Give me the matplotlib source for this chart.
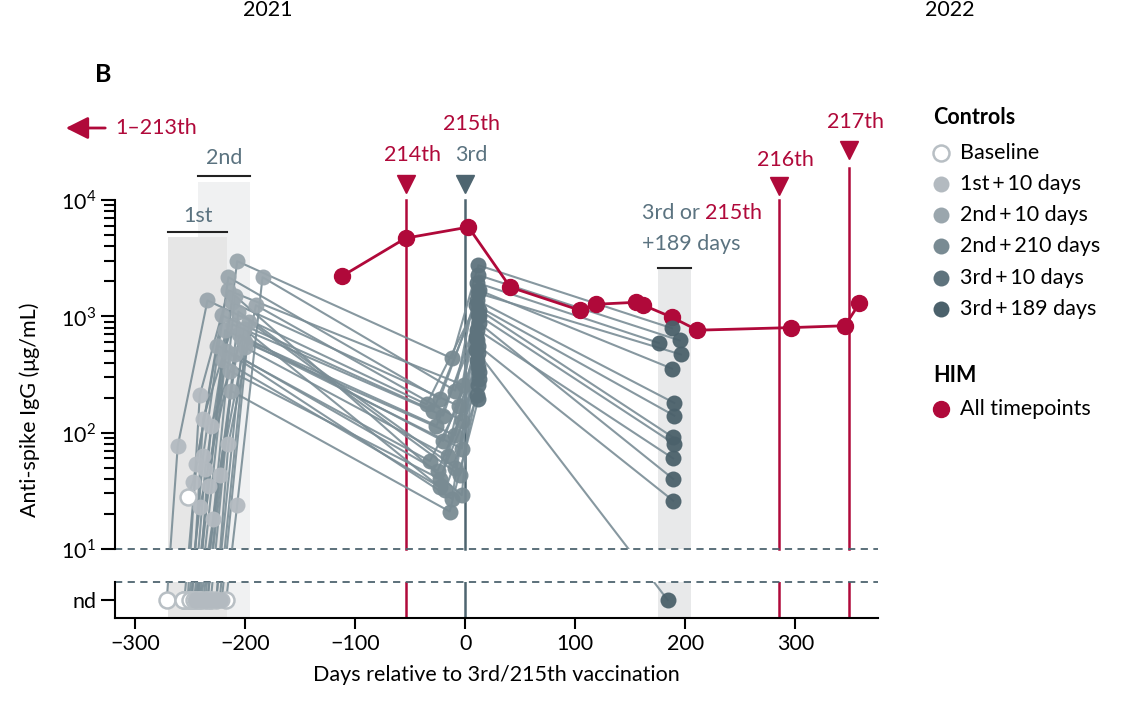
import numpy as np
import matplotlib
matplotlib.use("Agg")
import matplotlib.pyplot as plt
from matplotlib import transforms
from matplotlib.lines import Line2D
from matplotlib.patches import Rectangle
from matplotlib.ticker import LogLocator, NullLocator, FixedLocator

plt.rcParams['font.family'] = ['Lato', 'DejaVu Sans']
plt.rcParams['mathtext.fontset'] = 'custom'
plt.rcParams['mathtext.rm'] = 'Lato'

# ---- data ---------------------------------------------------------------
# HIM, all timepoints (days relative to 215th vaccination, anti-spike IgG)
him_day = [-112, -54, 3, 41, 104, 119, 155, 162, 188, 211, 296, 345, 358]
him_val = [2210, 4700, 5850, 1780, 1130, 1270, 1320, 1245, 980, 760, 800, 830, 1290]

# Controls: one entry per person, 0 = not detected (nd), nan = no sample
base_day = [-243, -217, -249, -252, -271, -246, -226, -255, -240, -234, -232, -251,
            -248, -255, -242, -252, -244, -256, -241, -231, -248, -250, -246, -236]
base_val = [0, 0, 0, 0, 0, 0, 0, 0, 0, 0, 0, 0, 0, 0, 0, 28, 0, 0, 0, 0, 0, 0, 0, 0]

d1_day = [-233, -207, -238, -241, -261, -236, -215, -244, -229, -223, -223, -241,
          -238, -244, -231, -247, -234, -245, -231, -221, -238, -241, -236, -226]
d1_val = [35, 24, 63, 210, 77, 49, 80, 54, 18, 43, 0, 23,
          132, 0, 115, 38, 0, 0, 0, 0, 0, 0, 0, 0]

d2_day = [-207, -184, -215, -215, -234, -212, -190, -221, -205, -200, -200, -214,
          -211, -218, -203, -225, -209, -220, -206, -196, -213, -217, -209, -201]
d2_val = [2980, 2170, 2170, 1670, 1370, 1320, 1245, 1020, 700, 600, 540, 340,
          850, 760, 640, 560, 470, 420, 1100, 900, 230, 500, 1500, 780]

d210_day = [-12, -9, -23, -1, -35, -6, -3, -29, -20, -9, -16, -23,
            -20, -26, -3, -32, -25, -18, -9, -5, -14, -12, -3, -23]
d210_val = [435, 230, 195, 255, 175, 170, 127, 155, 85, 95, 63, 40,
            140, 115, 73, 57, 47, 32, 50, 43, 21, 27, 29, 34]

d3_day = [12, 11, 13, 12, 10, 12, 13, 11, 12, 13, 11, 12,
          13, 11, 10, 12, 13, 11, 12, 13, 12, 11, 10, 12]
d3_val = [2750, 1940, 1670, 2260, 1245, 1580, 1000, 1370, 560, 870, 420, 255,
          1130, 770, 510, 365, 330, 210, 480, 290, 195, 620, 660, 1020]

nan = np.nan
d189_day = [188, 176, 188, 195, 190, 196, nan, 190, 189, 189, nan, nan,
            189, 189, 184, nan, nan, nan, nan, nan, nan, nan, nan, 190]
d189_val = [790, 590, 355, 620, 140, 470, nan, 180, 26, 40, nan, nan,
            91, 60, 0, nan, nan, nan, nan, nan, nan, nan, nan, 80]

timepoints = ["Baseline", "1st\u2009+\u200910 days", "2nd\u2009+\u200910 days",
              "2nd\u2009+\u2009210 days", "3rd\u2009+\u200910 days", "3rd\u2009+\u2009189 days"]
tp_colors = ["#B8BFC4", "#B3BAC0", "#9AA6AD", "#798B93", "#5E737D", "#4B616B"]

RED = "#B0093A"
SLATE = "#4E6570"
LABEL_SLATE = "#5B7380"
LINE_GREY = "#7A8D96"
FS = 15.5

# ---- layout -------------------------------------------------------------
W, H = 1129, 714
fig = plt.figure(figsize=(W / 100, H / 100), dpi=100)


def fx(px):
    return px / W


def fy(py):
    return 1 - py / H


top_px, brk_px, bot_top_px, bot_px = 200, 549, 582, 618
left_px, right_px = 115, 878
ax = fig.add_axes([fx(left_px), fy(brk_px), fx(right_px - left_px), (brk_px - top_px) / H])
axb = fig.add_axes([fx(left_px), fy(bot_px), fx(right_px - left_px), (bot_px - bot_top_px) / H],
                   sharex=ax)

# broken log axis: bottom panel continues the same log scale below the gap
decade = (brk_px - top_px) / 3.0
b_hi = 10 / 10 ** ((bot_top_px - brk_px) / decade)
b_lo = b_hi / 10 ** ((bot_px - bot_top_px) / decade)
ND = np.sqrt(b_hi * b_lo)

for a in (ax, axb):
    a.set_yscale('log')
ax.set_ylim(10, 1e4)
axb.set_ylim(b_lo, b_hi)
ax.set_xlim(-318, 375)

# ---- controls -----------------------------------------------------------
series = [(base_day, base_val), (d1_day, d1_val), (d2_day, d2_val),
          (d210_day, d210_val), (d3_day, d3_val), (d189_day, d189_val)]


def yv(v):
    return ND if v == 0 else v


for i in range(len(d2_day)):
    xs, ys = [], []
    for days, vals in series:
        if not np.isnan(vals[i]):
            xs.append(days[i])
            ys.append(yv(vals[i]))
    for a in (ax, axb):
        a.plot(xs, ys, color=LINE_GREY, lw=1.5, alpha=0.9, zorder=3)

# HIM series
for a in (ax, axb):
    a.plot(him_day, him_val, color=RED, lw=2, marker='o', ms=11.5, zorder=4)

for k, (days, vals) in enumerate(series):
    xs = [d for d, v in zip(days, vals) if not np.isnan(v)]
    ys = [yv(v) for v in vals if not np.isnan(v)]
    for a in (ax, axb):
        if k == 0:
            a.plot(xs, ys, ls='none', marker='o', ms=11.5, mfc='white',
                   mec=tp_colors[k], mew=1.8, zorder=5)
        else:
            a.plot(xs, ys, ls='none', marker='o', ms=11.5, mfc=tp_colors[k],
                   mec='none', alpha=0.95, zorder=5 + k)

# ---- bands ----------------------------------------------------------------
trans = transforms.blended_transform_factory(ax.transData, fig.transFigure)
bands = [(-243, -195, 182, "#F0F1F2", "2nd", 158, 176),
         (-270, -216, 237, "#E6E6E6", "1st", 216, 232),
         (175, 205, 268, "#E8E9EA", None, None, 268)]
for x0, x1, tpx, col, lab, lab_px, bar_px in bands:
    ax.add_patch(Rectangle((x0, fy(brk_px)), x1 - x0, fy(tpx) - fy(brk_px),
                           transform=trans, color=col, clip_on=False, zorder=0, lw=0))
    axb.axvspan(x0, x1, color=col, zorder=0, lw=0)
    ax.plot([x0, x1], [fy(bar_px), fy(bar_px)], color="#222222", lw=1.5,
            transform=trans, clip_on=False)
    if lab:
        ax.text((x0 + x1) / 2, fy(lab_px), lab, transform=trans, ha='center',
                va='center', color=LABEL_SLATE, fontsize=FS)

t1 = fig.text(fx(642), fy(213), "3rd or ", color=LABEL_SLATE, fontsize=FS, va='center')
ax.annotate("215th", xy=(1, 0.5), xycoords=t1, va='center', ha='left',
            color=RED, fontsize=FS, annotation_clip=False)
fig.text(fx(642), fy(244), "+189 days", color=LABEL_SLATE, fontsize=FS, va='center')

# ---- vaccination markers ------------------------------------------------
vacc = [(-54, RED, 200, 184, [("214th", RED, 155)]),
        (0, SLATE, 200, 184, [("215th", RED, 124), ("3rd", LABEL_SLATE, 155)]),
        (285, RED, 200, 186, [("216th", RED, 160)]),
        (349, RED, 168, 150, [("217th", RED, 122)])]
for xv, col, line_top, tri_px, labels in vacc:
    ax.plot([xv, xv], [fy(brk_px), fy(line_top)], color=col, lw=1.8,
            transform=trans, clip_on=False, zorder=2)
    axb.axvline(xv, color=col, lw=1.8, zorder=2)
    ax.plot([xv], [fy(tri_px)], marker='v', ms=13, color=col, transform=trans,
            clip_on=False)
    for s, c, py in labels:
        ax.text(xv + 6, fy(py), s, transform=trans, ha='center', va='center',
                color=c, fontsize=FS)

# arrow for earlier vaccinations
ax.annotate('', xy=(fx(63), fy(128)), xytext=(fx(108), fy(128)),
            xycoords='figure fraction', textcoords='figure fraction',
            arrowprops=dict(arrowstyle='-|>', color=RED, lw=2, mutation_scale=34))
fig.text(fx(115), fy(128), "1–213th", color=RED, fontsize=FS, va='center')

# ---- axes styling -------------------------------------------------------
for a in (ax, axb):
    a.spines['top'].set_visible(False)
    a.spines['right'].set_visible(False)
    a.spines['left'].set_linewidth(1.5)
    a.tick_params(axis='y', which='both', width=1.5, labelsize=FS)
ax.spines['bottom'].set_visible(False)
ax.tick_params(axis='x', bottom=False, labelbottom=False)
ax.yaxis.set_major_locator(FixedLocator([10, 100, 1000, 10000]))
ax.set_yticklabels([r'$10^{1}$', r'$10^{2}$', r'$10^{3}$', r'$10^{4}$'])
ax.yaxis.set_minor_locator(LogLocator(base=10, subs=np.arange(2, 10)))
ax.yaxis.set_minor_formatter(plt.NullFormatter())
ax.tick_params(axis='y', which='major', length=10)
ax.tick_params(axis='y', which='minor', length=8)
ax.axhline(10, color=SLATE, lw=1.3, ls=(0, (4, 3)), clip_on=False)

axb.yaxis.set_major_locator(FixedLocator([ND]))
axb.set_yticklabels(['nd'])
axb.yaxis.set_minor_locator(NullLocator())
axb.tick_params(axis='y', which='major', length=10)
axb.axhline(b_hi, color=SLATE, lw=1.3, ls=(0, (4, 3)), clip_on=False)
axb.spines['bottom'].set_linewidth(1.5)
axb.set_xticks(range(-300, 301, 100))
axb.set_xticklabels([f"{t}".replace('-', '−') for t in range(-300, 301, 100)])
axb.tick_params(axis='x', length=8, width=1.5, labelsize=FS)
axb.set_xlabel("Days relative to 3rd/215th vaccination", fontsize=FS, labelpad=8)

fig.text(fx(30), fy(410), "Anti-spike IgG (μg/mL)", rotation=90, fontsize=FS,
         ha='center', va='center')

fig.text(fx(268), fy(10), "2021", fontsize=FS, ha='center', va='center')
fig.text(fx(950), fy(10), "2022", fontsize=FS, ha='center', va='center')
fig.text(fx(103), fy(75), "B", fontsize=18, fontweight='bold', ha='center', va='center')

# ---- legend ---------------------------------------------------------------
fig.text(fx(933), fy(118), "Controls", fontsize=FS, fontweight='bold', va='center')
leg_y = [153, 184, 215, 246, 278, 309]
for k, (lab, py) in enumerate(zip(timepoints, leg_y)):
    if k == 0:
        m = Line2D([fx(941)], [fy(py)], marker='o', ms=11.5, mfc='white',
                   mec=tp_colors[k], mew=1.8, ls='none', transform=fig.transFigure)
    else:
        m = Line2D([fx(941)], [fy(py)], marker='o', ms=11.5, mfc=tp_colors[k],
                   mec='none', ls='none', transform=fig.transFigure)
    fig.add_artist(m)
    fig.text(fx(960), fy(py), lab, fontsize=FS, va='center')

fig.text(fx(933), fy(375), "HIM", fontsize=FS, fontweight='bold', va='center')
fig.add_artist(Line2D([fx(941)], [fy(409)], marker='o', ms=11.5, color=RED,
                      ls='none', transform=fig.transFigure))
fig.text(fx(960), fy(409), "All timepoints", fontsize=FS, va='center')

fig.savefig("out.png", dpi=100)
